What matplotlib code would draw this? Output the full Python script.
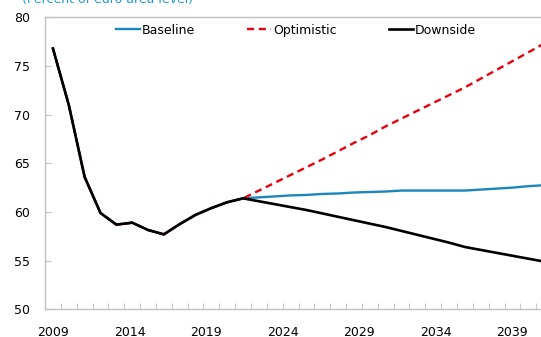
import matplotlib
matplotlib.use("Agg")
from matplotlib import pyplot as plt
import numpy as np

# historical path, shared by all scenarios (2009-2021)
hist_years = list(range(2009, 2022))
hist = [76.8, 71.0, 63.6, 59.9, 58.7, 58.9, 58.15, 57.7, 58.75, 59.7, 60.4, 61.0, 61.4]

# projections 2022-2040
proj_years = list(range(2022, 2041))
baseline = [61.5, 61.6, 61.7, 61.75, 61.85, 61.9, 62.0, 62.05, 62.1, 62.2,
            62.2, 62.2, 62.2, 62.2, 62.3, 62.4, 62.5, 62.65, 62.75]
optimistic = [62.2, 63.0, 63.8, 64.6, 65.4, 66.25, 67.1, 67.9, 68.8, 69.6,
              70.4, 71.2, 72.0, 72.8, 73.7, 74.6, 75.5, 76.4, 77.3]
downside = [61.1, 60.8, 60.5, 60.2, 59.85, 59.5, 59.15, 58.8, 58.45, 58.05,
            57.65, 57.25, 56.85, 56.4, 56.1, 55.8, 55.5, 55.2, 54.9]

tick_years = [2009, 2014, 2019, 2024, 2029, 2034, 2039]

years = hist_years + proj_years
grey = '#BFBFBF'

fig = plt.figure(figsize=(5.41, 3.37), dpi=100)
ax = fig.add_axes([45/541, 1-309.3/337, 1-45/541, (309.3-17.3)/337])

ax.plot(years, hist + baseline, color='#1A86BA', lw=1.7, label='Baseline')
ax.plot(years, hist + optimistic, color='#E8000B', lw=1.7, ls=(0, (3, 2)), label='Optimistic')
ax.plot(years, hist + downside, color='black', lw=1.9, label='Downside')

ax.set_ylim(50, 80)
ax.set_yticks(np.arange(50, 81, 5))
ax.set_xlim(2008.5, 2039.8)

# minor ticks between years, labels placed as in the original
ax.set_xticks(np.arange(2008.5, 2040, 1), minor=True)
lab_pos = [2009 + i * 4.83 for i in range(len(tick_years))]
ax.set_xticks(lab_pos)
ax.set_xticklabels([str(y) for y in tick_years])

ax.tick_params(axis='x', which='major', length=0, pad=12, labelsize=9)
ax.tick_params(axis='x', which='minor', direction='in', length=4, color=grey)
ax.tick_params(axis='y', direction='in', length=4, color=grey, pad=11, labelsize=9)

for s in ['left', 'bottom', 'top']:
    ax.spines[s].set_color(grey)
    ax.spines[s].set_linewidth(1.0)
ax.spines['right'].set_visible(False)

ax.legend(loc='center', bbox_to_anchor=(0.506, 0.956), ncol=3, frameon=False,
          fontsize=9, handlelength=1.9, handletextpad=0.15, columnspacing=4.2,
          borderaxespad=0)

fig.text(22/541, 1-6/337, '(Percent of euro area level)', color='#1A9AD6',
         fontsize=9, va='bottom', ha='left')

fig.savefig('out.png', dpi=100)
